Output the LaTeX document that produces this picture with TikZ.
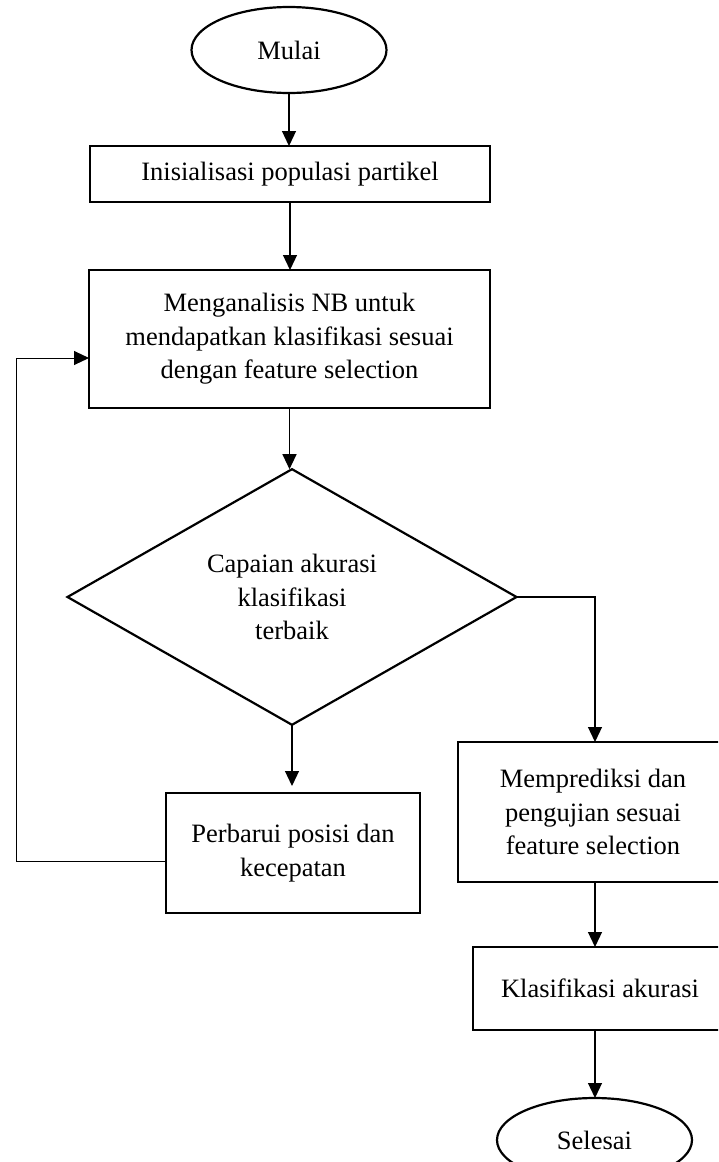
\documentclass[tikz,border=0pt]{standalone}
\usepackage{fontspec}
\setmainfont{Liberation Serif}
\usetikzlibrary{shapes.geometric,arrows.meta}
\tikzset{
  x=0.5pt, y=-0.5pt,
  every node/.style={font=\fontsize{13.25pt}{16.75pt}\selectfont, align=center, inner sep=0pt, outer sep=0pt},
  procbox/.style={draw, line width=1.1pt, rectangle},
  termnode/.style={draw, line width=1.1pt, ellipse},
  decnode/.style={draw, line width=1.1pt, diamond},
  arr/.style={line width=0.6pt, -{Triangle[width=7pt,length=7.5pt]}},
}
\begin{document}
\begin{tikzpicture}
\useasboundingbox (0,0) rectangle (718,1162);
\clip (0,0) rectangle (718,1162);
\node[termnode, minimum width=97.5pt, minimum height=43pt] (start) at (289,50) {Mulai};
\node[procbox, minimum width=200pt, minimum height=28pt] (init) at (290,174) {Inisialisasi populasi partikel};
\node[procbox, minimum width=200.5pt, minimum height=69pt] (anal) at (289.5,339) {Menganalisis NB untuk\\mendapatkan klasifikasi sesuai\\dengan feature selection};
\node[decnode, minimum width=224.5pt, minimum height=122pt] (dec) at (292,597) {Capaian akurasi\\klasifikasi\\terbaik};
\node[procbox, minimum width=127pt, minimum height=60pt] (upd) at (293,853) {Perbarui posisi dan\\kecepatan};
\node[procbox, minimum width=135pt, minimum height=70pt] (pred) at (593,812) {Memprediksi dan\\pengujian sesuai\\feature selection};
\node[procbox, minimum width=127pt, minimum height=41.5pt] (klas) at (600,988.5) {Klasifikasi akurasi};
\node[termnode, minimum width=97.5pt, minimum height=42pt] (end) at (594.5,1140) {Selesai};
\coordinate (rc) at (595,0);
\coordinate (lc) at (16,358);
\draw[arr] (start.south) -- (start.south |- init.north);
\draw[arr] (init.south) -- (init.south |- anal.north);
\draw[arr] (anal.south) -- (anal.south |- dec.north);
\draw[arr, shorten >=3.5pt] (dec.south) -- (dec.south |- upd.north);
\draw[arr] (dec.east) -| (pred.north -| rc);
\draw[arr] (pred.south -| rc) -- (klas.north -| rc);
\draw[arr] (klas.south -| rc) -- (end.north -| rc);
\draw[arr, line width=0.5pt] ([yshift=-4pt]upd.west) -| (lc) -- (lc -| anal.west);
\end{tikzpicture}
\end{document}
